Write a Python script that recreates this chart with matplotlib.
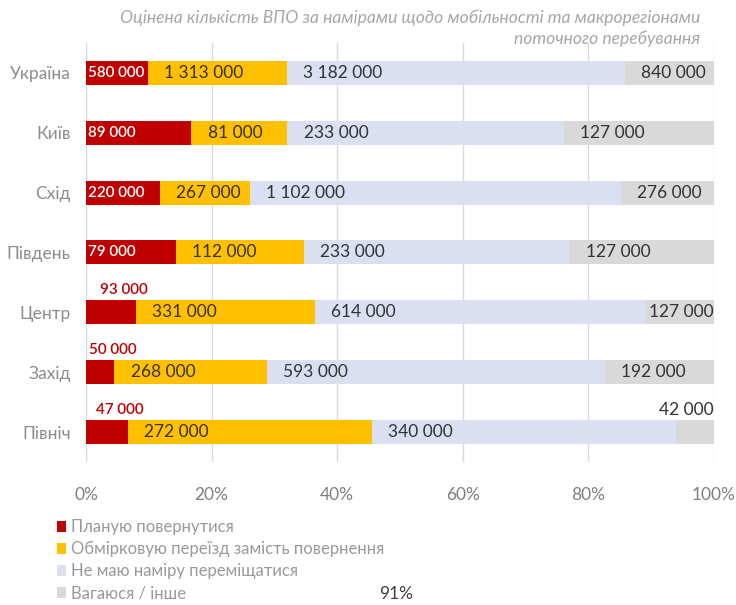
#!/usr/bin/env python3
"""Stacked 100% bar chart: estimated IDP numbers by mobility intention and macro-region."""

import matplotlib
matplotlib.use('Agg')
import matplotlib.pyplot as plt
import numpy as np

plt.rcParams['font.family'] = ['Lato', 'Open Sans', 'DejaVu Sans']

regions = ['Україна', 'Київ', 'Схід', 'Південь', 'Центр', 'Захід', 'Північ']
plan_return = [580000, 89000, 220000, 79000, 93000, 50000, 47000]
consider_move = [1313000, 81000, 267000, 112000, 331000, 268000, 272000]
no_move = [3182000, 233000, 1102000, 233000, 614000, 593000, 340000]
undecided = [840000, 127000, 276000, 127000, 127000, 192000, 42000]

series_names = ['Планую повернутися',
                'Обмірковую переїзд замість повернення',
                'Не маю наміру переміщатися',
                'Вагаюся / інше']
colors = ['#C00000', '#FFC000', '#DAE0F2', '#D9D9D9']
xticks = [0, 20, 40, 60, 80, 100]
title = ('Оцінена кількість ВПО за намірами щодо мобільності та макрорегіонами\n'
         'поточного перебування')


def fmt(v):
    return f'{v:,}'.replace(',', ' ')


data = np.array([plan_return, consider_move, no_move, undecided], dtype=float)
pct = data / data.sum(axis=0) * 100

fig = plt.figure(figsize=(7.36, 6.05), dpi=100)
ax = fig.add_axes([0.1168, 0.2364, 0.8533, 0.6926])

y = np.arange(len(regions))
left = np.zeros(len(regions))
for k in range(4):
    ax.barh(y, pct[k], left=left, height=0.4, color=colors[k],
            label=series_names[k], zorder=2)
    for i in range(len(regions)):
        w = pct[k][i]
        txt = fmt(int(data[k][i]))
        if k == 0:
            if i < 4:
                ax.text(left[i] + 0.3, y[i], txt, ha='left', va='center',
                        fontsize=11, color='white', fontweight='semibold', zorder=3)
            else:
                ax.text(max(0.0, w / 2 - 1.8), y[i] - 0.37, txt, ha='left',
                        va='center', fontsize=11, color='#C00000',
                        fontweight='semibold', zorder=3)
        elif k == 3 and w < 8:
            ax.text(100, y[i] - 0.37, txt, ha='right', va='center',
                    fontsize=12.5, color='#333333', zorder=3)
        elif k == 3 and w < 12:
            ax.text(100, y[i], txt, ha='right', va='center',
                    fontsize=12.5, color='#333333', zorder=3)
        else:
            ax.text(left[i] + 2.6, y[i], txt, ha='left', va='center',
                    fontsize=12.5, color='#333333', zorder=3)
    left += pct[k]

ax.set_xlim(0, 100)
ax.set_ylim(6.5, -0.5)
ax.set_xticks(xticks)
ax.set_xticklabels([f'{t}%' for t in xticks], fontsize=12.5, color='#7f7f7f')
ax.set_yticks(y)
ax.set_yticklabels(regions, fontsize=12.5, color='#8c8c8c')
ax.tick_params(axis='both', length=0)
ax.tick_params(axis='x', pad=18)
ax.tick_params(axis='y', pad=11)
for s in ax.spines.values():
    s.set_visible(False)
ax.grid(axis='x', color='#d9d9d9', linewidth=1, zorder=0)
ax.set_axisbelow(True)

fig.text(0.951, 0.985, title, ha='right', va='top', fontsize=12.6,
         style='italic', color='#a6a6a6', linespacing=1.4)

handles, labels = ax.get_legend_handles_labels()
leg = fig.legend(handles, labels, loc='upper left', bbox_to_anchor=(0.068, 0.153),
                 frameon=False, fontsize=12, handlelength=0.55, handleheight=0.6,
                 handletextpad=0.3, labelspacing=0.36, borderaxespad=0)
for t in leg.get_texts():
    t.set_color('#999999')

fig.text(0.538, 0.005, '91%', ha='center', va='bottom', fontsize=12.5, color='#404040')

fig.savefig('out.png', dpi=100, facecolor='white')
